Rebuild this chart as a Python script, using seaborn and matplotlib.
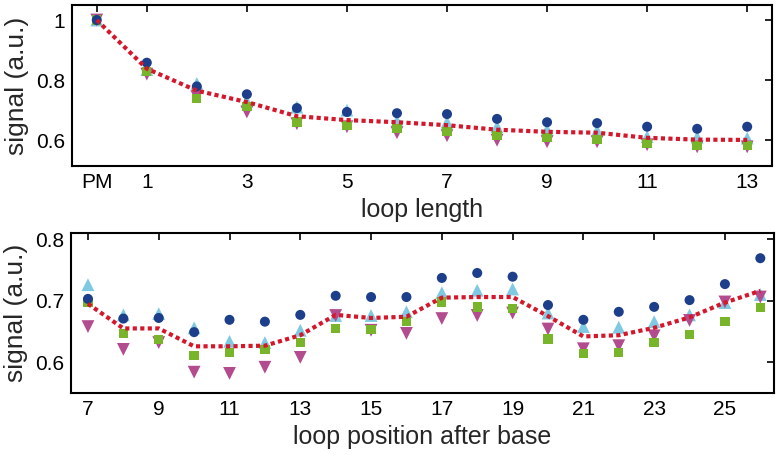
import numpy as np
import pandas as pd
import matplotlib
matplotlib.use('Agg')
import matplotlib.pyplot as plt
import seaborn as sns

# top panel: loop length (0 = PM)
length_x = [0, 1, 2, 3, 4, 5, 6, 7, 8, 9, 10, 11, 12, 13]
length_circle = [1.0, 0.858, 0.779, 0.753, 0.707, 0.694, 0.690, 0.687, 0.671, 0.660, 0.657, 0.645, 0.638, 0.645]
length_up = [1.0, 0.835, 0.789, 0.730, 0.710, 0.700, 0.664, 0.660, 0.645, 0.635, 0.632, 0.612, 0.610, 0.607]
length_square = [1.0, 0.829, 0.740, 0.713, 0.661, 0.648, 0.640, 0.630, 0.615, 0.608, 0.602, 0.589, 0.582, 0.582]
length_down = [1.0, 0.820, 0.745, 0.694, 0.655, 0.645, 0.625, 0.615, 0.600, 0.595, 0.595, 0.585, 0.578, 0.578]
length_mean = [1.0, 0.838, 0.765, 0.727, 0.680, 0.667, 0.660, 0.650, 0.635, 0.628, 0.625, 0.608, 0.602, 0.601]

# bottom panel: loop position after base
pos_x = list(range(7, 27))
pos_circle = [0.703, 0.671, 0.672, 0.649, 0.669, 0.666, 0.677, 0.708, 0.706, 0.706,
              0.737, 0.745, 0.739, 0.693, 0.669, 0.682, 0.690, 0.701, 0.727, 0.769]
pos_up = [0.726, 0.677, 0.679, 0.656, 0.634, 0.632, 0.652, 0.676, 0.676, 0.682,
          0.713, 0.717, 0.719, 0.680, 0.658, 0.657, 0.666, 0.677, 0.697, 0.710]
pos_square = [0.697, 0.647, 0.637, 0.611, 0.616, 0.621, 0.632, 0.655, 0.653, 0.666,
              0.698, 0.690, 0.687, 0.638, 0.614, 0.616, 0.632, 0.645, 0.666, 0.689]
pos_down = [0.658, 0.621, 0.632, 0.584, 0.582, 0.592, 0.608, 0.676, 0.652, 0.647,
            0.671, 0.676, 0.680, 0.654, 0.622, 0.627, 0.643, 0.668, 0.698, 0.706]
pos_mean = [0.695, 0.655, 0.655, 0.626, 0.626, 0.627, 0.644, 0.677, 0.672, 0.674,
            0.705, 0.706, 0.706, 0.675, 0.642, 0.644, 0.656, 0.673, 0.697, 0.716]

series = ['up', 'down', 'square', 'circle']
markers = {'up': '^', 'down': 'v', 'square': 's', 'circle': 'o'}
palette = {'up': '#7fc9e2', 'down': '#b24c8e', 'square': '#79b52a', 'circle': '#1d3e8a'}
sizes = {'up': 85, 'down': 85, 'square': 45, 'circle': 52}
red = '#d4172a'


def long_df(x, up, down, square, circle):
    vals = {'up': up, 'down': down, 'square': square, 'circle': circle}
    rows = []
    for s in series:
        for xi, v in zip(x, vals[s]):
            rows.append((xi, v, s))
    return pd.DataFrame(rows, columns=['x', 'signal', 'kind'])


sns.set_style('white')
plt.rcParams['font.family'] = ['Liberation Sans', 'DejaVu Sans']

fig = plt.figure(figsize=(7.8, 4.55), dpi=100)
ax1 = fig.add_axes([0.092, 0.635, 0.898, 0.354])
ax2 = fig.add_axes([0.091, 0.136, 0.901, 0.352])

for ax, x, up, down, sq, ci, mean in [
        (ax1, length_x, length_up, length_down, length_square, length_circle, length_mean),
        (ax2, pos_x, pos_up, pos_down, pos_square, pos_circle, pos_mean)]:
    df = long_df(x, up, down, sq, ci)
    for s in series:
        sns.scatterplot(data=df[df['kind'] == s], x='x', y='signal', ax=ax,
                        marker=markers[s], color=palette[s], s=sizes[s],
                        edgecolor='none', legend=False, zorder=2)
    sns.lineplot(x=x, y=mean, ax=ax, color=red, linewidth=3.0,
                 dashes=False, zorder=3)
    ax.lines[-1].set_dashes([1.0, 0.8])
    ax.tick_params(direction='in', top=True, right=True, length=5, width=1.2,
                   labelsize=15, pad=5, colors='black')
    for sp in ax.spines.values():
        sp.set_linewidth(1.5)
        sp.set_color('black')
    ax.set_ylabel('signal (a.u.)', fontsize=19, labelpad=5)

ax1.set_xlim(-0.5, 13.5)
ax1.set_ylim(0.514, 1.05)
ax1.set_xticks([0, 1, 3, 5, 7, 9, 11, 13])
ax1.set_xticklabels(['PM', '1', '3', '5', '7', '9', '11', '13'])
ax1.set_yticks([0.6, 0.8, 1.0])
ax1.set_yticklabels(['0.6', '0.8', '1'])
ax1.set_xlabel('loop length', fontsize=18, labelpad=4)

ax2.set_xlim(6.52, 26.38)
ax2.set_ylim(0.55, 0.81)
ax2.set_xticks(list(range(7, 26, 2)))
ax2.set_yticks([0.6, 0.7, 0.8])
ax2.set_yticklabels(['0.6', '0.7', '0.8'])
ax2.set_xlabel('loop position after base', fontsize=18, labelpad=4)

fig.savefig('out.png', dpi=100)
